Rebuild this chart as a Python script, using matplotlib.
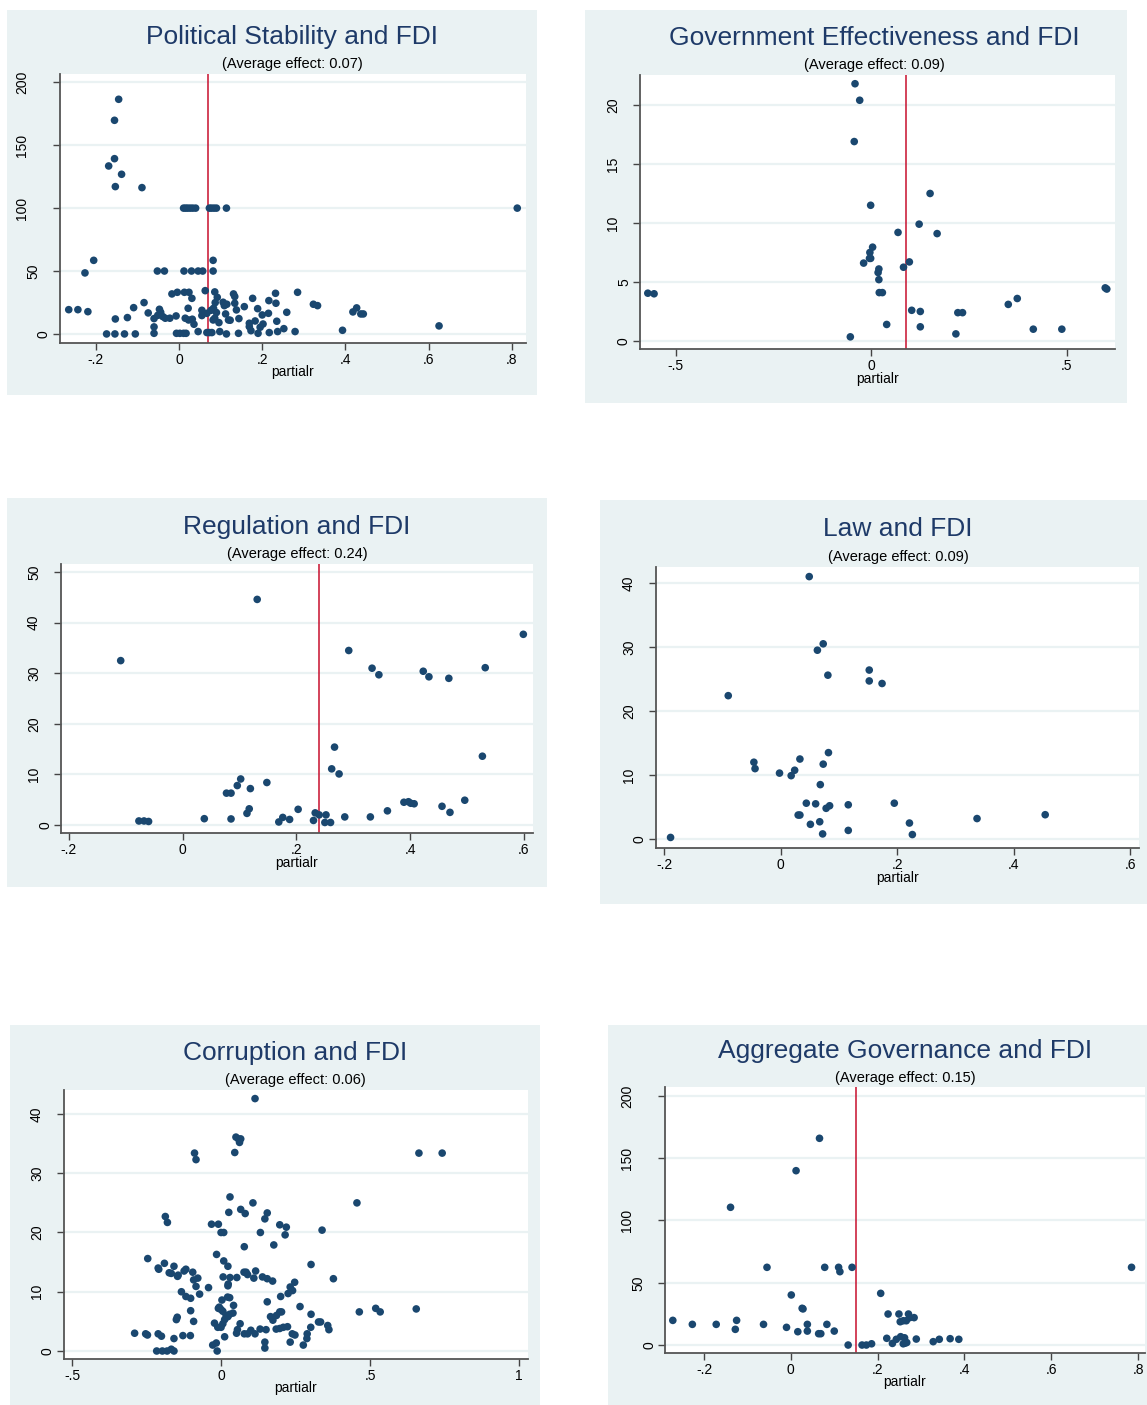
import matplotlib
matplotlib.use("Agg")
import matplotlib.pyplot as plt
from matplotlib.patches import Rectangle
from matplotlib.transforms import blended_transform_factory, ScaledTranslation

plt.rcParams['font.family'] = ['Liberation Sans', 'DejaVu Sans']

W, H = 1147, 1405

# ---- data ----
# Political Stability
ps_x = [-0.145, -0.155, -0.155, -0.169, -0.138, -0.153, -0.089,
        0.011, 0.016, 0.021, 0.027, 0.033, 0.04, 0.073, 0.078, 0.084, 0.09, 0.114, 0.813,
        -0.205, -0.226, 0.082,
        -0.052, -0.035, 0.012, 0.03, 0.046, 0.057, 0.082,
        -0.265, -0.243, -0.219, -0.153, -0.124, -0.109, -0.084, -0.074, -0.06, -0.06, -0.06,
        -0.174, -0.154, -0.131, -0.105, -0.047, -0.044, -0.051, -0.039, -0.033, -0.022,
        -0.017, -0.004, -0.007, -0.006, 0.002, 0.011, 0.017, 0.013, 0.024, 0.031, 0.022,
        0.015, 0.023, 0.032, 0.036, 0.046, 0.063, 0.055, 0.055, 0.067, 0.077, 0.083,
        0.067, 0.073, 0.079, 0.086, 0.092, 0.087, 0.086, 0.082, 0.09, 0.096, 0.098, 0.114,
        0.106, 0.115, 0.109, 0.112, 0.131, 0.134, 0.134, 0.138, 0.119, 0.123, 0.144, 0.143,
        0.157, 0.177, 0.169, 0.169, 0.173, 0.183, 0.19, 0.189, 0.2, 0.195, 0.202, 0.215,
        0.216, 0.232, 0.233, 0.235, 0.217, 0.237, 0.252, 0.259, 0.279, 0.285, 0.323, 0.333,
        0.393, 0.418, 0.427, 0.437, 0.443, 0.625]
ps_y = [186.5, 169.8, 139.3, 133.5, 126.9, 117.1, 116.3,
        100, 100, 100, 100, 100, 100, 100, 100, 100, 100, 100, 100,
        58.5, 48.5, 58.5,
        50, 50, 50, 50, 50, 50, 50,
        19.3, 19.3, 17.7, 11.9, 13.0, 20.9, 24.9, 16.7, 12.2, 5.6, 0.5,
        0, 0, 0, 0, 19.6, 17.2, 14.8, 13.8, 12.5, 12.5,
        31.8, 33.1, 14.3, 0.5, 0.5, 0.5, 0.5, 33.1, 33.1, 28.3, 20.4,
        12.5, 11.1, 11.7, 7.7, 1.9, 34.4, 18.8, 14.6, 16.4, 18.8, 20.4,
        1.1, 1.1, 1.1, 33.4, 29.1, 24.9, 12.5, 11.1, 17.0, 9.0, 1.9, 0,
        25.2, 23.6, 22.5, 15.9, 31.8, 29.7, 24.4, 19.1, 11.1, 10.9, 12.2, 0.5,
        21.7, 28.3, 8.5, 5.8, 2.6, 10.3, 0.5, 20.1, 15.1, 5.3, 7.9, 16.4,
        26.5, 32.3, 24.4, 10.1, 1.1, 1.9, 4.2, 17.2, 1.9, 33.1, 23.6, 22.5,
        2.9, 17.5, 20.7, 15.9, 15.9, 6.4]

# Government Effectiveness
ge_x = [-0.041, -0.029, -0.043, 0.151, -0.001, 0.123, 0.069, 0.169, 0.004, -0.003,
        -0.001, -0.004, -0.019, 0.098, 0.083, 0.02, 0.018, 0.02, 0.021, 0.029,
        -0.571, -0.555, 0.599, 0.603, 0.374, 0.351, 0.104, 0.126, 0.222, 0.234,
        0.04, 0.126, 0.415, 0.488, 0.217, -0.053]
ge_y = [21.8, 20.4, 16.9, 12.5, 11.5, 9.9, 9.2, 9.1, 7.95, 7.5,
        7.0, 7.0, 6.6, 6.7, 6.25, 6.1, 5.8, 5.2, 4.1, 4.1,
        4.05, 4.0, 4.5, 4.4, 3.6, 3.1, 2.6, 2.5, 2.4, 2.4,
        1.4, 1.2, 1.0, 1.0, 0.6, 0.35]

# Regulation
rq_x = [0.131, 0.599, -0.109, 0.292, 0.333, 0.345, 0.423, 0.433, 0.468, 0.532,
        0.267, 0.527, 0.262, 0.275, 0.102, 0.096, 0.119, 0.148, 0.077, 0.085,
        0.496, 0.389, 0.397, 0.401, 0.407, 0.456, 0.47, 0.36, 0.203, 0.117,
        0.113, 0.233, 0.24, 0.252, 0.23, 0.176, 0.188, 0.169, 0.285, 0.33,
        0.25, 0.26, 0.085, 0.038, -0.077, -0.068, -0.06]
rq_y = [44.6, 37.7, 32.5, 34.5, 31.0, 29.7, 30.4, 29.3, 29.0, 31.1,
        15.4, 13.6, 11.1, 10.1, 9.1, 7.8, 7.2, 8.4, 6.3, 6.3,
        4.9, 4.5, 4.6, 4.3, 4.2, 3.7, 2.5, 2.8, 3.1, 3.2,
        2.3, 2.4, 2.0, 2.0, 0.9, 1.5, 1.1, 0.6, 1.6, 1.6,
        0.5, 0.5, 1.2, 1.25, 0.8, 0.8, 0.7]

# Law
law_x = [0.049, 0.073, 0.063, 0.081, 0.152, 0.152, 0.174, -0.09, 0.082, 0.033,
         -0.046, -0.044, 0.073, -0.002, 0.024, 0.018, 0.068, 0.044, 0.06, 0.116,
         0.195, 0.078, 0.084, 0.03, 0.033, 0.337, 0.454, 0.051, 0.067, 0.221,
         0.116, 0.072, 0.226, -0.189]
law_y = [41.0, 30.5, 29.5, 25.6, 26.4, 24.7, 24.3, 22.4, 13.5, 12.5,
         12.0, 11.0, 11.7, 10.3, 10.75, 9.9, 8.5, 5.6, 5.5, 5.35,
         5.6, 4.8, 5.2, 3.75, 3.75, 3.2, 3.8, 2.3, 2.7, 2.5,
         1.35, 0.8, 0.7, 0.25]

# Corruption
cc_x = [0.114, 0.05, 0.058, 0.066, 0.062, 0.046, -0.089, -0.084, 0.664, 0.742,
        0.03, 0.107, 0.456, 0.066, 0.026, 0.081, 0.155, -0.187, -0.18, -0.032,
        -0.009, 0.147, 0.197, 0.219, 0.339, 0.0, 0.009, 0.132, 0.215, 0.078,
        0.177, -0.015, -0.246, 0.009, 0.302, 0.023, -0.19, -0.158, -0.211, -0.209,
        -0.118, -0.124, -0.095, -0.174, -0.167, -0.144, -0.146, -0.078, -0.092, -0.084,
        -0.042, -0.133, -0.072, -0.118, -0.102, -0.102, -0.092, -0.15, -0.147, -0.158,
        -0.128, -0.103, -0.29, -0.253, -0.247, -0.211, -0.2, -0.216, -0.197, -0.181,
        -0.167, -0.158, 0.007, 0.03, 0.053, 0.024, 0.023, 0.077, 0.084, 0.089,
        0.116, 0.11, 0.139, 0.155, 0.173, 0.247, 0.232, 0.24, 0.225, 0.2,
        0.377, 0.003, 0.022, 0.029, -0.009, 0.0, 0.006, -0.006, 0.042, 0.017,
        0.023, 0.029, 0.04, 0.012, 0.006, -0.022, -0.011, 0.0, -0.028, -0.016,
        -0.013, 0.012, 0.052, 0.055, 0.064, 0.078, 0.089, 0.1, 0.114, 0.131,
        0.151, 0.147, 0.147, 0.155, 0.166, 0.174, 0.186, 0.197, 0.203, 0.185,
        0.197, 0.209, 0.223, 0.232, 0.239, 0.248, 0.265, 0.276, 0.288, 0.289,
        0.302, 0.301, 0.327, 0.334, 0.358, 0.362, 0.464, 0.519, 0.534, 0.655]
cc_y = [42.6, 36.1, 35.8, 35.8, 35.2, 33.5, 33.4, 32.3, 33.4, 33.4,
        26.0, 25.0, 25.0, 23.9, 23.4, 23.2, 23.3, 22.7, 21.7, 21.4,
        21.4, 22.3, 21.3, 20.9, 20.4, 20.0, 20.0, 20.0, 19.6, 17.6,
        17.9, 16.3, 15.6, 15.2, 14.6, 14.3, 14.8, 14.3, 14.0, 13.8,
        13.8, 13.5, 13.3, 13.2, 13.1, 12.8, 12.6, 12.3, 12.0, 10.9,
        10.7, 10.0, 9.6, 9.2, 8.9, 6.8, 5.0, 5.3, 5.7, 2.1,
        2.6, 2.6, 3.0, 2.9, 2.7, 2.9, 2.5, 0.0, 0.0, 0.0,
        0.3, 0.0, 12.5, 12.4, 12.4, 11.3, 11.0, 13.3, 13.3, 12.9,
        13.5, 12.3, 12.5, 12.2, 11.8, 11.6, 10.8, 10.2, 9.7, 9.2,
        12.2, 8.6, 9.1, 9.0, 7.2, 7.0, 6.7, 7.4, 7.7, 6.0,
        5.8, 6.2, 6.4, 5.3, 4.6, 4.7, 4.0, 4.0, 1.0, 1.35,
        0.0, 2.4, 3.0, 3.6, 4.6, 2.9, 2.9, 3.5, 2.9, 3.7,
        3.6, 1.5, 0.5, 8.3, 5.8, 5.2, 6.0, 6.6, 6.6, 3.7,
        3.8, 4.0, 4.1, 1.5, 2.9, 2.7, 7.5, 1.0, 2.1, 2.9,
        6.2, 4.0, 4.9, 4.9, 4.3, 3.6, 6.6, 7.2, 6.6, 7.1]

# Aggregate Governance
ag_x = [0.066, 0.012, -0.139, -0.055, 0.078, 0.11, 0.113, 0.141, 0.785, 0.207,
        0.001, 0.026, 0.028, 0.224, 0.249, 0.271, 0.252, 0.259, 0.266, 0.274,
        0.284, -0.272, -0.227, -0.172, -0.125, -0.128, -0.063, -0.01, 0.016, 0.038,
        0.038, 0.083, 0.064, 0.069, 0.1, 0.132, 0.164, 0.174, 0.186, 0.221,
        0.243, 0.253, 0.262, 0.263, 0.259, 0.289, 0.234, 0.328, 0.342, 0.367,
        0.387, 0.267]
ag_y = [166, 140, 110.6, 62.4, 62.4, 62.4, 58.9, 62.4, 62.4, 41.5,
        40.2, 29.5, 29.0, 24.9, 24.9, 24.9, 18.7, 19.5, 19.5, 22.0,
        22.0, 19.8, 16.6, 16.6, 19.8, 12.6, 16.6, 14.2, 10.7, 16.6,
        11.2, 16.6, 9.1, 9.1, 11.2, 0, 0, 0, 1.0, 5.4,
        4.6, 6.7, 5.8, 1.5, 1.0, 4.8, 1.3, 2.7, 4.6, 5.1,
        4.6, 2.0]

panels = [
    dict(bg=(7, 10, 537, 395), ax=(60, 74, 526, 343), title="Political Stability and FDI",
         sub="(Average effect: 0.07)", tpos=(292, 37, 64), xlab_y=372,
         x=ps_x, y=ps_y, xlim=(-0.286, 0.834), ylim=(-7.2, 206.6), vline=0.07,
         xt=[-0.2, 0, 0.2, 0.4, 0.6, 0.8], xtl=['-.2', '0', '.2', '.4', '.6', '.8'],
         yt=[0, 50, 100, 150, 200]),
    dict(bg=(585, 10, 1127, 403), ax=(640, 75, 1115, 349), title="Government Effectiveness and FDI",
         sub="(Average effect: 0.09)", tpos=(874, 38, 65), xlab_y=379,
         x=ge_x, y=ge_y, xlim=(-0.591, 0.624), ylim=(-0.68, 22.54), vline=0.09,
         xt=[-0.5, 0, 0.5], xtl=['-.5', '0', '.5'],
         yt=[0, 5, 10, 15, 20]),
    dict(bg=(7, 498, 547, 887), ax=(61, 564, 533, 833), title="Regulation and FDI",
         sub="(Average effect: 0.24)", tpos=(297, 527, 554), xlab_y=863,
         x=rq_x, y=rq_y, xlim=(-0.214, 0.616), ylim=(-1.58, 51.6), vline=0.24,
         xt=[-0.2, 0, 0.2, 0.4, 0.6], xtl=['-.2', '0', '.2', '.4', '.6'],
         yt=[0, 10, 20, 30, 40, 50]),
    dict(bg=(600, 500, 1147, 904), ax=(656, 567, 1139, 848), title="Law and FDI",
         sub="(Average effect: 0.09)", tpos=(898, 529, 557), xlab_y=878,
         x=law_x, y=law_y, xlim=(-0.214, 0.615), ylim=(-1.4, 42.5), vline=None,
         xt=[-0.2, 0, 0.2, 0.4, 0.6], xtl=['-.2', '0', '.2', '.4', '.6'],
         yt=[0, 10, 20, 30, 40]),
    dict(bg=(10, 1025, 540, 1405), ax=(64, 1090, 528, 1359), title="Corruption and FDI",
         sub="(Average effect: 0.06)", tpos=(295, 1053, 1080), xlab_y=1388,
         x=cc_x, y=cc_y, xlim=(-0.527, 1.03), ylim=(-1.35, 44.05), vline=None,
         xt=[-0.5, 0, 0.5, 1], xtl=['-.5', '0', '.5', '1'],
         yt=[0, 10, 20, 30, 40]),
    dict(bg=(608, 1025, 1147, 1405), ax=(665, 1087, 1145, 1353), title="Aggregate Governance and FDI",
         sub="(Average effect: 0.15)", tpos=(905, 1051, 1078), xlab_y=1382,
         x=ag_x, y=ag_y, xlim=(-0.29, 0.816), ylim=(-6.4, 207.2), vline=0.15,
         xt=[-0.2, 0, 0.2, 0.4, 0.6, 0.8], xtl=['-.2', '0', '.2', '.4', '.6', '.8'],
         yt=[0, 50, 100, 150, 200]),
]

BG = '#EAF2F3'
NAVY = '#1A476F'
TITLE = '#1E3A68'

fig = plt.figure(figsize=(W / 100, H / 100), dpi=100)
fig.patch.set_facecolor('white')

for p in panels:
    x0, y0, x1, y1 = p['bg']
    fig.patches.append(Rectangle((x0 / W, 1 - y1 / H), (x1 - x0) / W, (y1 - y0) / H,
                                 transform=fig.transFigure, facecolor=BG, edgecolor='none', zorder=-10))
    a0, b0, a1, b1 = p['ax']
    ax = fig.add_axes([a0 / W, 1 - b1 / H, (a1 - a0) / W, (b1 - b0) / H])
    ax.set_zorder(1)
    ax.set_facecolor('white')
    ax.set_xlim(*p['xlim'])
    ax.set_ylim(*p['ylim'])
    ax.set_xticks(p['xt'])
    ax.set_xticklabels(p['xtl'])
    ax.set_yticks(p['yt'])
    ax.set_yticklabels([])
    ax.tick_params(axis='both', labelsize=10, length=5, width=1, color='#444444', labelcolor='black')
    ax.tick_params(axis='x', pad=2)
    for s in ['top', 'right']:
        ax.spines[s].set_visible(False)
    for s in ['left', 'bottom']:
        ax.spines[s].set_color('#555555')
        ax.spines[s].set_linewidth(1.3)
    ax.yaxis.grid(True, color=BG, linewidth=1.6)
    ax.set_axisbelow(True)
    # stata-style rotated y labels: longer labels sit further left
    base = blended_transform_factory(ax.transAxes, ax.transData)
    for v in p['yt']:
        lab = str(v)
        off = (5 + 11 * len(lab)) / 100
        ax.text(0, v, lab, rotation=90, ha='center', va='center', fontsize=10, color='black',
                transform=base + ScaledTranslation(-off, 0, fig.dpi_scale_trans), clip_on=False)
    ax.scatter(p['x'], p['y'], s=30, color=NAVY, edgecolors='none', zorder=3)
    if p['vline'] is not None:
        ax.axvline(p['vline'], color='#C8102E', linewidth=1.1, zorder=2)
    cx, ty, sy = p['tpos']
    fig.text(cx / W, 1 - ty / H, p['title'], ha='center', va='center', fontsize=19, color=TITLE)
    fig.text(cx / W, 1 - sy / H, p['sub'], ha='center', va='center', fontsize=10.5, color='black')
    fig.text(((a0 + a1) / 2) / W, 1 - p['xlab_y'] / H, 'partialr', ha='center', va='center',
             fontsize=10, color='black')

fig.savefig('out.png', dpi=100)
